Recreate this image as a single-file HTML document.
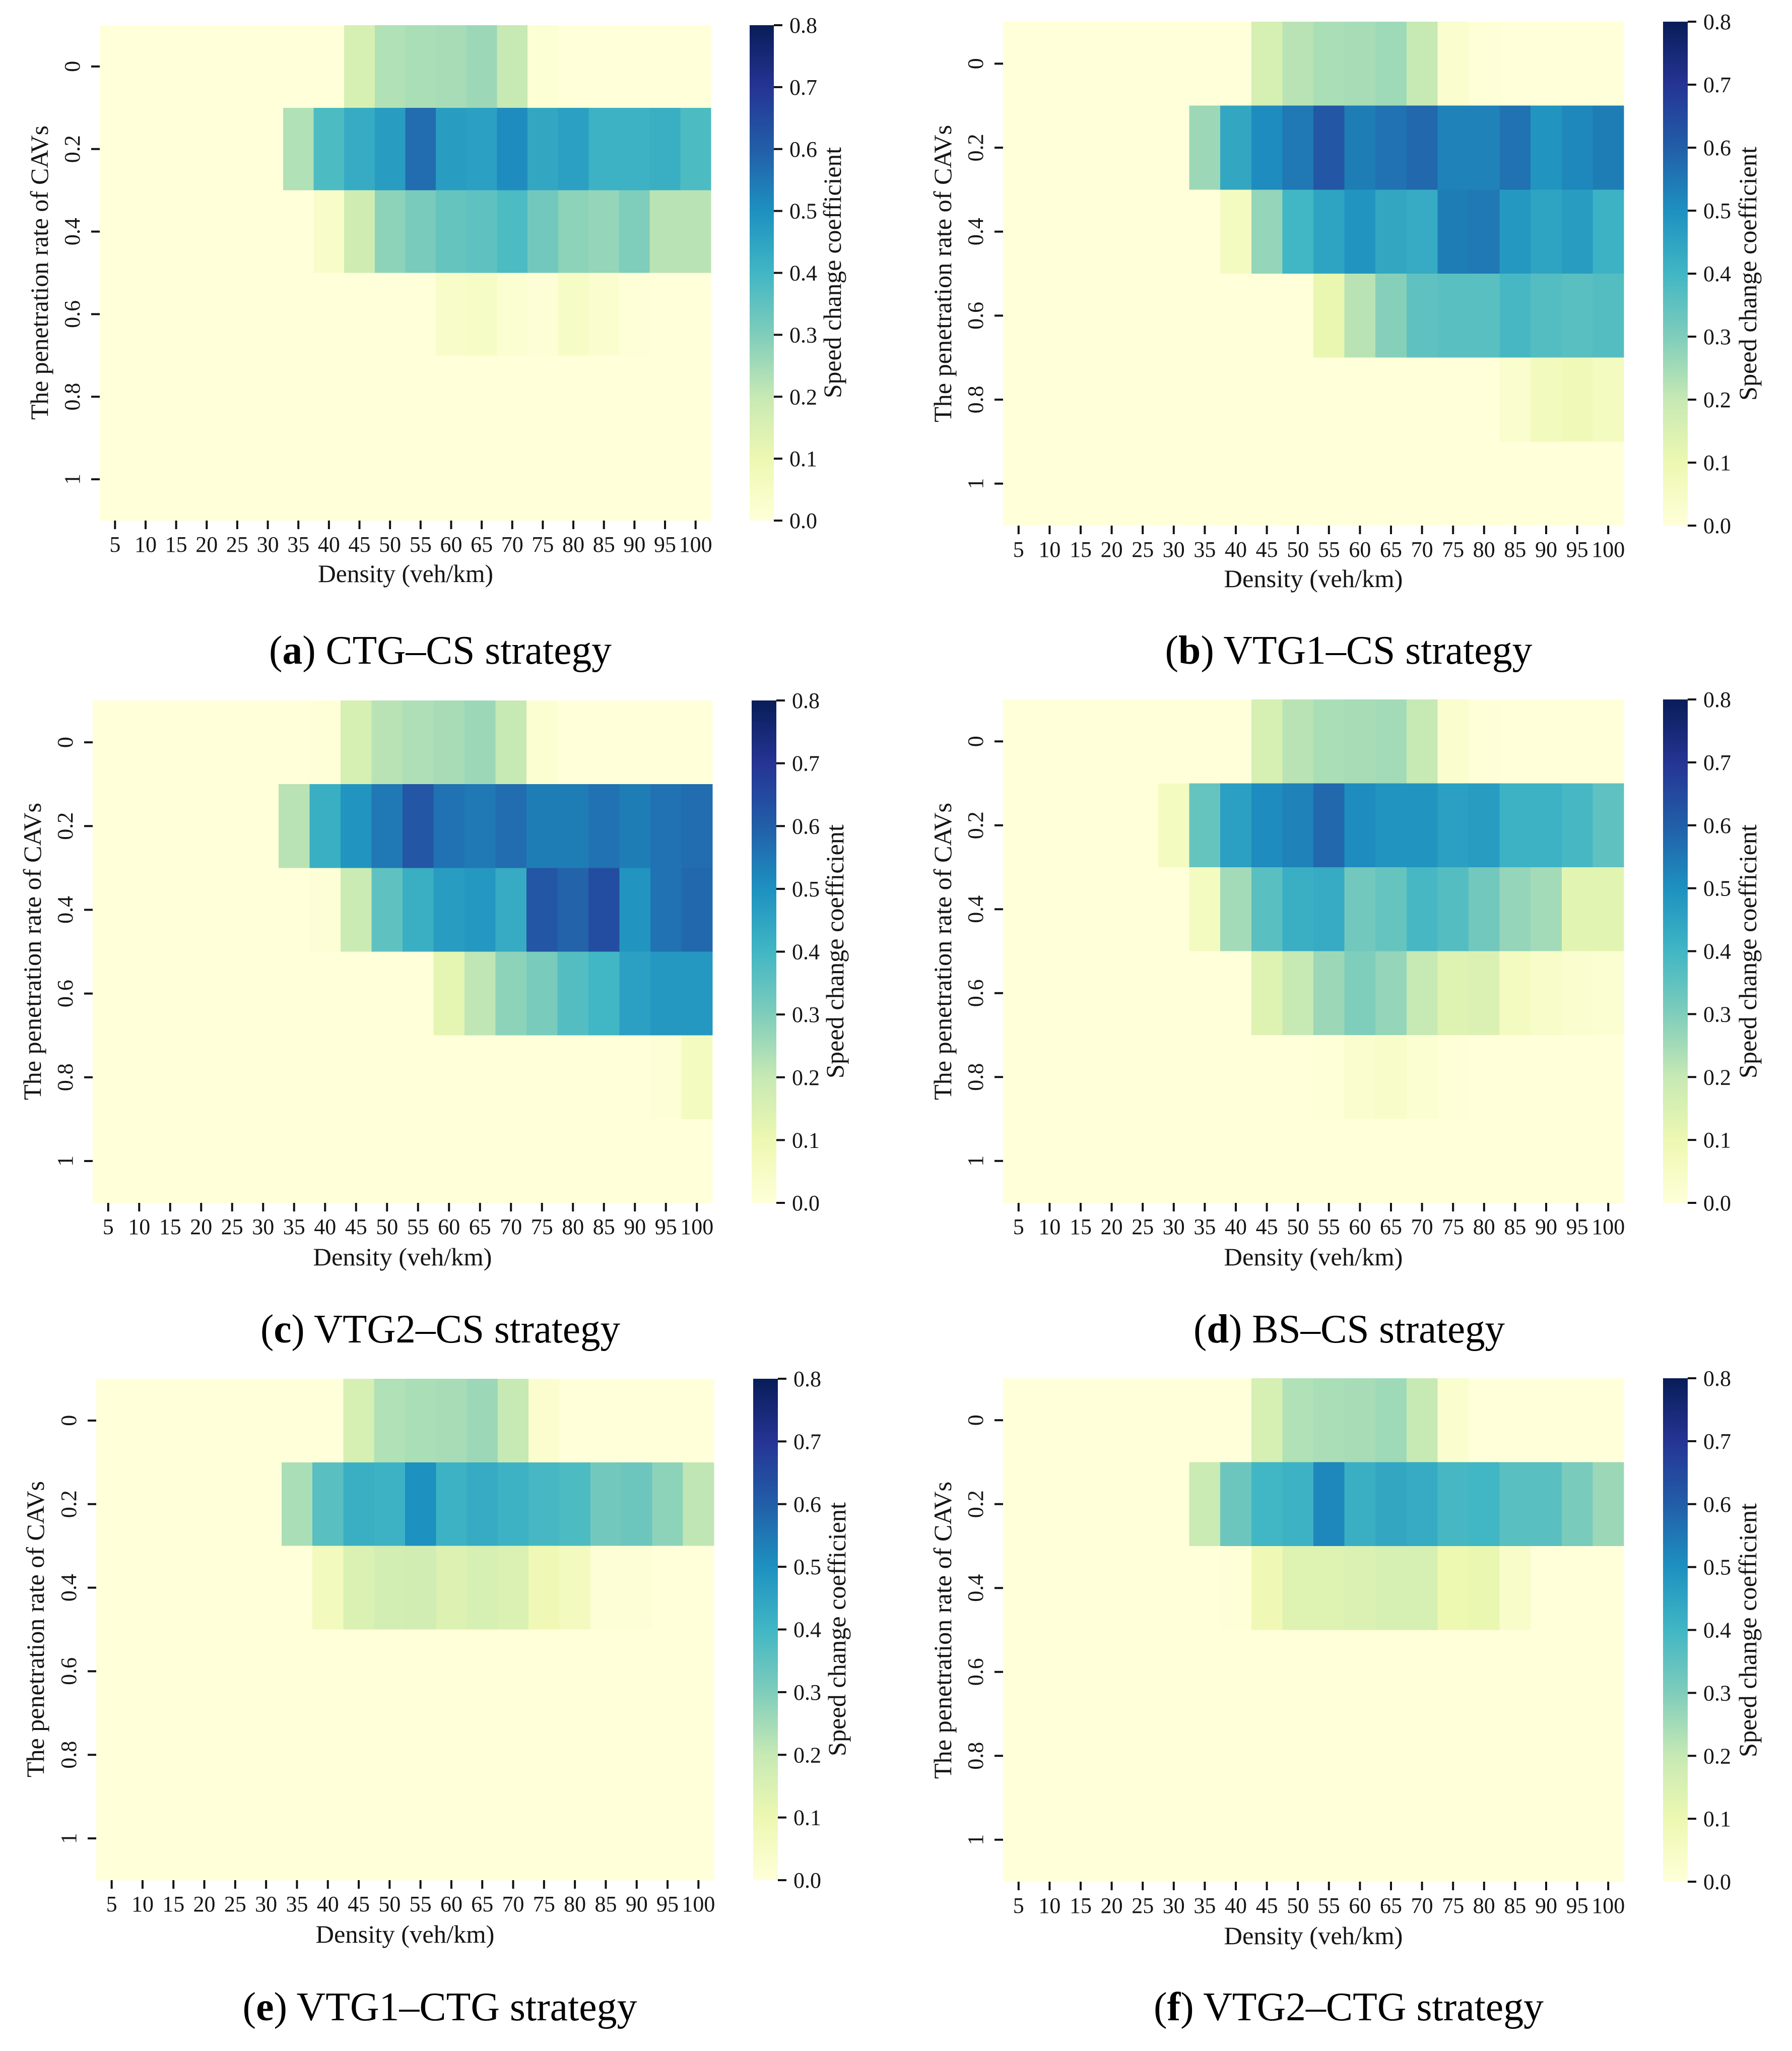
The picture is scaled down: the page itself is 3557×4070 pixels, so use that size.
<!DOCTYPE html>
<html lang="en">
<head>
<meta charset="utf-8">
<title>Speed change coefficient heatmaps</title>
<style>
html,body{margin:0;padding:0;background:#fff;}
svg{display:block;}
text{font-family:"Liberation Serif",serif;fill:#151515;}
.tick{font-size:44px;}
.axis{font-size:50px;}
.cap{font-size:80px;fill:#000;}
.cap tspan{font-weight:bold;}
</style>
</head>
<body>
<svg id="figure" xmlns="http://www.w3.org/2000/svg" width="3557" height="4070" viewBox="0 0 3557 4070">
<rect x="0" y="0" width="3557" height="4070" fill="#ffffff"/>
<defs>
<linearGradient id="cbar-gradient" x1="0" y1="1" x2="0" y2="0"></linearGradient>
</defs>

<g id="panel-a">
<text class="axis" text-anchor="middle" textLength="584" lengthAdjust="spacingAndGlyphs" transform="translate(95,541) rotate(-90)">The penetration rate of CAVs</text>
<text class="axis" text-anchor="middle" textLength="348" lengthAdjust="spacingAndGlyphs" x="805" y="1155">Density (veh/km)</text>
<text class="axis" text-anchor="middle" textLength="498" lengthAdjust="spacingAndGlyphs" transform="translate(1669,541) rotate(-90)">Speed change coefficient</text>
<text class="cap" text-anchor="middle" textLength="680" lengthAdjust="spacingAndGlyphs" x="874" y="1317">(<tspan>a</tspan>) CTG–CS strategy</text>
</g>

<g id="panel-b">
<text class="axis" text-anchor="middle" textLength="590" lengthAdjust="spacingAndGlyphs" transform="translate(1888,543) rotate(-90)">The penetration rate of CAVs</text>
<text class="axis" text-anchor="middle" textLength="355" lengthAdjust="spacingAndGlyphs" x="2607" y="1165">Density (veh/km)</text>
<text class="axis" text-anchor="middle" textLength="504" lengthAdjust="spacingAndGlyphs" transform="translate(3486,543) rotate(-90)">Speed change coefficient</text>
<text class="cap" text-anchor="middle" textLength="729" lengthAdjust="spacingAndGlyphs" x="2677" y="1317">(<tspan>b</tspan>) VTG1–CS strategy</text>
</g>

<g id="panel-c">
<text class="axis" text-anchor="middle" textLength="590" lengthAdjust="spacingAndGlyphs" transform="translate(81,1888) rotate(-90)">The penetration rate of CAVs</text>
<text class="axis" text-anchor="middle" textLength="355" lengthAdjust="spacingAndGlyphs" x="799" y="2511">Density (veh/km)</text>
<text class="axis" text-anchor="middle" textLength="504" lengthAdjust="spacingAndGlyphs" transform="translate(1674,1888) rotate(-90)">Speed change coefficient</text>
<text class="cap" text-anchor="middle" textLength="714" lengthAdjust="spacingAndGlyphs" x="874" y="2664">(<tspan>c</tspan>) VTG2–CS strategy</text>
</g>

<g id="panel-d">
<text class="axis" text-anchor="middle" textLength="590" lengthAdjust="spacingAndGlyphs" transform="translate(1888,1888) rotate(-90)">The penetration rate of CAVs</text>
<text class="axis" text-anchor="middle" textLength="355" lengthAdjust="spacingAndGlyphs" x="2607" y="2511">Density (veh/km)</text>
<text class="axis" text-anchor="middle" textLength="504" lengthAdjust="spacingAndGlyphs" transform="translate(3486,1888) rotate(-90)">Speed change coefficient</text>
<text class="cap" text-anchor="middle" textLength="618" lengthAdjust="spacingAndGlyphs" x="2678" y="2664">(<tspan>d</tspan>) BS–CS strategy</text>
</g>

<g id="panel-e">
<text class="axis" text-anchor="middle" textLength="588" lengthAdjust="spacingAndGlyphs" transform="translate(87,3233) rotate(-90)">The penetration rate of CAVs</text>
<text class="axis" text-anchor="middle" textLength="355" lengthAdjust="spacingAndGlyphs" x="804" y="3855">Density (veh/km)</text>
<text class="axis" text-anchor="middle" textLength="504" lengthAdjust="spacingAndGlyphs" transform="translate(1678,3233) rotate(-90)">Speed change coefficient</text>
<text class="cap" text-anchor="middle" textLength="783" lengthAdjust="spacingAndGlyphs" x="873" y="4009">(<tspan>e</tspan>) VTG1–CTG strategy</text>
</g>

<g id="panel-f">
<text class="axis" text-anchor="middle" textLength="590" lengthAdjust="spacingAndGlyphs" transform="translate(1888,3235) rotate(-90)">The penetration rate of CAVs</text>
<text class="axis" text-anchor="middle" textLength="355" lengthAdjust="spacingAndGlyphs" x="2607" y="3858">Density (veh/km)</text>
<text class="axis" text-anchor="middle" textLength="504" lengthAdjust="spacingAndGlyphs" transform="translate(3486,3235) rotate(-90)">Speed change coefficient</text>
<text class="cap" text-anchor="middle" textLength="774" lengthAdjust="spacingAndGlyphs" x="2677" y="4009">(<tspan>f</tspan>) VTG2–CTG strategy</text>
</g>
</svg>

<script>
// Category and tick labels
const densityLabels = ['5','10','15','20','25','30','35','40','45','50','55','60','65','70','75','80','85','90','95','100'];
const rateLabels = ['0','0.2','0.4','0.6','0.8','1'];
const colorbarTicks = [0,0.1,0.2,0.3,0.4,0.5,0.6,0.7,0.8];
const colorbarMax = 0.8;

// Series values: one row per penetration rate, one column per density
const valuesA = [
  [0,0,0,0,0,0,0,0,.16,.23,.24,.245,.26,.2,.015,0,0,0,0,0],
  [0,0,0,0,0,0,.23,.38,.43,.47,.57,.47,.46,.51,.44,.46,.41,.41,.42,.38],
  [0,0,0,0,0,0,0,.04,.18,.28,.31,.34,.35,.38,.32,.28,.27,.3,.22,.22],
  [0,0,0,0,0,0,0,0,0,0,0,.04,.05,.02,.01,.05,.03,.005,0,0],
  [0,0,0,0,0,0,0,0,0,0,0,0,0,0,0,0,0,0,0,0],
  [0,0,0,0,0,0,0,0,0,0,0,0,0,0,0,0,0,0,0,0]
];
const valuesB = [
  [0,0,0,0,0,0,0,0,.16,.22,.24,.245,.255,.2,.03,.005,0,0,0,0],
  [0,0,0,0,0,0,.26,.44,.51,.55,.62,.54,.56,.58,.53,.53,.56,.49,.52,.54],
  [0,0,0,0,0,0,0,.06,.27,.4,.45,.49,.44,.43,.54,.55,.48,.45,.47,.41],
  [0,0,0,0,0,0,0,0,0,0,.11,.22,.29,.35,.36,.36,.39,.37,.36,.37],
  [0,0,0,0,0,0,0,0,0,0,0,0,0,0,0,0,.03,.07,.08,.06],
  [0,0,0,0,0,0,0,0,0,0,0,0,0,0,0,0,0,0,0,0]
];
const valuesC = [
  [0,0,0,0,0,0,0,.005,.16,.22,.235,.245,.26,.2,.02,0,0,0,0,0],
  [0,0,0,0,0,0,.22,.42,.49,.55,.62,.56,.55,.57,.54,.54,.56,.54,.56,.57],
  [0,0,0,0,0,0,0,.01,.19,.35,.42,.47,.48,.43,.62,.59,.64,.49,.56,.58],
  [0,0,0,0,0,0,0,0,0,0,0,.12,.21,.28,.31,.37,.4,.46,.48,.48],
  [0,0,0,0,0,0,0,0,0,0,0,0,0,0,0,0,0,0,.01,.06],
  [0,0,0,0,0,0,0,0,0,0,0,0,0,0,0,0,0,0,0,0]
];
const valuesD = [
  [0,0,0,0,0,0,0,0,.16,.22,.24,.245,.25,.2,.03,.005,0,0,0,0],
  [0,0,0,0,0,.06,.34,.46,.51,.53,.58,.51,.49,.49,.46,.47,.41,.41,.39,.35],
  [0,0,0,0,0,0,.06,.25,.36,.42,.43,.32,.34,.39,.37,.32,.27,.25,.13,.13],
  [0,0,0,0,0,0,0,0,.14,.2,.26,.3,.27,.2,.14,.15,.06,.04,.03,.02],
  [0,0,0,0,0,0,0,0,0,0,.005,.03,.04,.02,.005,0,0,0,0,0],
  [0,0,0,0,0,0,0,0,0,0,0,0,0,0,0,0,0,0,0,0]
];
const valuesE = [
  [0,0,0,0,0,0,0,0,.16,.23,.24,.245,.26,.2,.025,0,0,0,0,0],
  [0,0,0,0,0,0,.24,.36,.42,.41,.5,.41,.43,.41,.39,.38,.32,.33,.28,.21],
  [0,0,0,0,0,0,0,.07,.15,.17,.175,.145,.16,.15,.09,.065,.01,.01,0,0],
  [0,0,0,0,0,0,0,0,0,0,0,0,0,0,0,0,0,0,0,0],
  [0,0,0,0,0,0,0,0,0,0,0,0,0,0,0,0,0,0,0,0],
  [0,0,0,0,0,0,0,0,0,0,0,0,0,0,0,0,0,0,0,0]
];
const valuesF = [
  [0,0,0,0,0,0,0,0,.16,.23,.24,.245,.255,.2,.03,0,0,0,0,0],
  [0,0,0,0,0,0,.19,.33,.4,.41,.52,.42,.44,.43,.39,.4,.36,.36,.31,.26],
  [0,0,0,0,0,0,0,.005,.09,.14,.14,.15,.16,.16,.1,.11,.04,0,0,0],
  [0,0,0,0,0,0,0,0,0,0,0,0,0,0,0,0,0,0,0,0],
  [0,0,0,0,0,0,0,0,0,0,0,0,0,0,0,0,0,0,0,0],
  [0,0,0,0,0,0,0,0,0,0,0,0,0,0,0,0,0,0,0,0]
];

// Colour scale (YlGnBu)
const colormap = ['#ffffd9','#edf8b1','#c7e9b4','#7fcdbb','#41b6c4','#1d91c0','#225ea8','#253494','#081d58'];

// Panel frames
const frames = {
  a:{values:valuesA,left:198,right:1411,top:50,bottom:1033,cbLeft:1488,cbRight:1536},
  b:{values:valuesB,left:1991,right:3223,top:43,bottom:1043,cbLeft:3301,cbRight:3350},
  c:{values:valuesC,left:184,right:1414,top:1390,bottom:2387,cbLeft:1492,cbRight:1541},
  d:{values:valuesD,left:1991,right:3223,top:1388,bottom:2387,cbLeft:3301,cbRight:3350},
  e:{values:valuesE,left:191,right:1417,top:2736,bottom:3731,cbLeft:1495,cbRight:1544},
  f:{values:valuesF,left:1991,right:3223,top:2735,bottom:3734,cbLeft:3301,cbRight:3350}
};

const NS = 'http://www.w3.org/2000/svg';

function make(tag, attrs, parent) {
  const node = document.createElementNS(NS, tag);
  for (const key in attrs) node.setAttribute(key, attrs[key]);
  parent.appendChild(node);
  return node;
}

function hexToRgb(hex) {
  return [parseInt(hex.slice(1,3),16), parseInt(hex.slice(3,5),16), parseInt(hex.slice(5,7),16)];
}

function colorFor(value) {
  const t = Math.max(0, Math.min(1, value / colorbarMax)) * (colormap.length - 1);
  const i = Math.min(Math.floor(t), colormap.length - 2);
  const f = t - i;
  const a = hexToRgb(colormap[i]);
  const b = hexToRgb(colormap[i + 1]);
  return 'rgb(' + a.map(function (c, k) { return Math.round(c + (b[k] - c) * f); }).join(',') + ')';
}

const gradient = document.getElementById('cbar-gradient');
colormap.forEach(function (color, i) {
  make('stop', {offset: (i / (colormap.length - 1)), 'stop-color': color}, gradient);
});

function drawPanel(id, frame) {
  const panel = document.getElementById('panel-' + id);
  const cellW = (frame.right - frame.left) / densityLabels.length;
  const cellH = (frame.bottom - frame.top) / rateLabels.length;
  const xAt = function (col) { return frame.left + col * cellW; };
  const yAt = function (row) { return frame.top + row * cellH; };
  const cbY = function (value) { return frame.bottom - (value / colorbarMax) * (frame.bottom - frame.top); };

  frame.values.forEach(function (rowValues, row) {
    rowValues.forEach(function (value, col) {
      const cell = make('rect', {
        x: xAt(col), y: yAt(row), width: cellW + 0.5, height: cellH + 0.5,
        fill: colorFor(value), 'shape-rendering': 'crispEdges'
      }, panel);
      
      
    });
  });

  densityLabels.forEach(function (label, col) {
    const cx = xAt(col + 0.5);
    const mark = make('rect', {x: cx - 2, y: frame.bottom, width: 4, height: 17, fill: '#111'}, panel);
    
    
    const text = make('text', {class: 'tick', 'text-anchor': 'middle', x: cx, y: frame.bottom + 62}, panel);
    text.textContent = label;
    
    
  });

  rateLabels.forEach(function (label, row) {
    const cy = yAt(row + 0.5);
    const mark = make('rect', {x: frame.left - 17, y: cy - 2, width: 17, height: 4, fill: '#111'}, panel);
    
    
    const text = make('text', {class: 'tick', 'text-anchor': 'middle',
      transform: 'translate(' + (frame.left - 40) + ',' + cy + ') rotate(-90)'}, panel);
    text.textContent = label;
    
    
  });

  const bar = make('rect', {
    x: frame.cbLeft, y: frame.top, width: frame.cbRight - frame.cbLeft,
    height: frame.bottom - frame.top, fill: 'url(#cbar-gradient)'
  }, panel);
  
  

  colorbarTicks.forEach(function (value) {
    const cy = cbY(value);
    const mark = make('rect', {x: frame.cbRight, y: cy - 2, width: 17, height: 4, fill: '#111'}, panel);
    
    
    const text = make('text', {class: 'tick', x: frame.cbRight + 31, y: cy + 15}, panel);
    text.textContent = value.toFixed(1);
    
    
  });
}

Object.keys(frames).forEach(function (id) {
  drawPanel(id, frames[id]);
});
</script>
</body>
</html>
